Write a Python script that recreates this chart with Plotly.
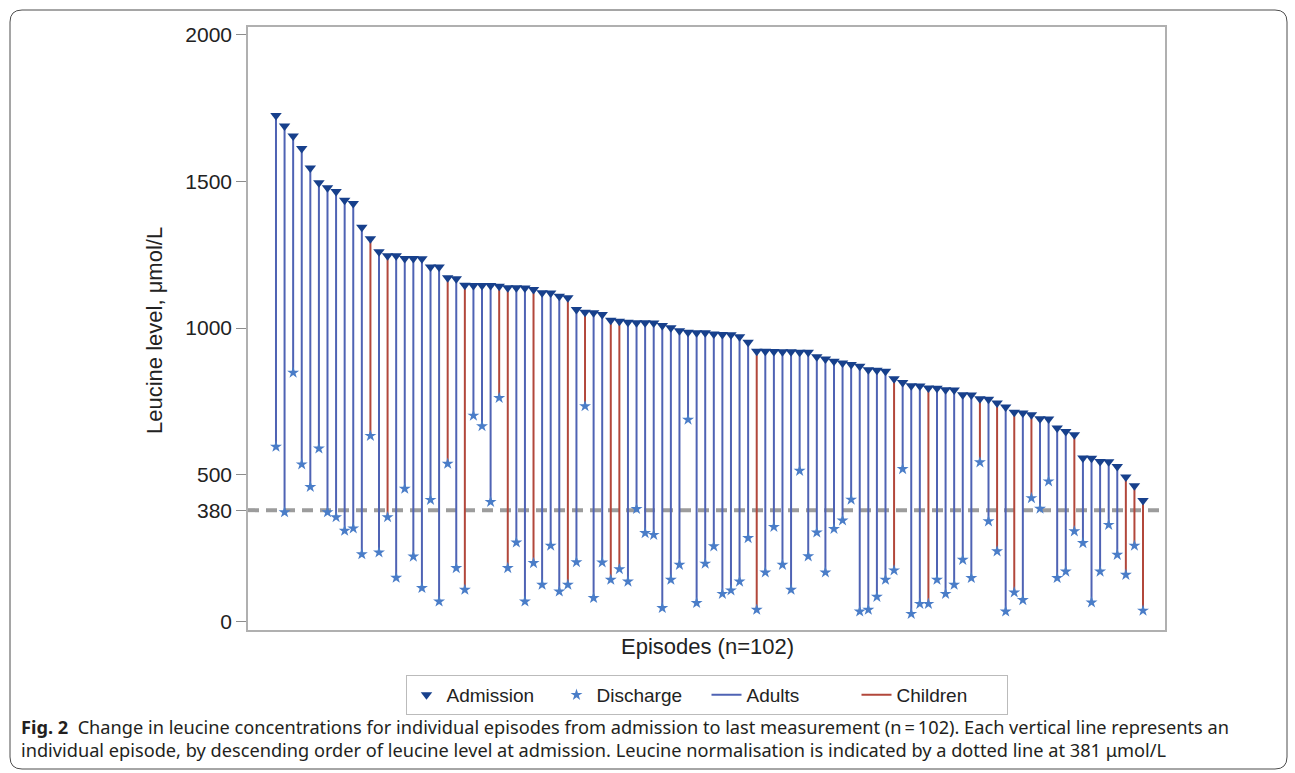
import plotly.graph_objects as go

# ---------------- data ----------------
episodes = list(range(1, 103))

admission = [
    1724, 1688, 1654, 1611, 1545, 1495, 1478, 1465, 1435, 1424,
    1343, 1304, 1260, 1246, 1246, 1237, 1237, 1236, 1208, 1208,
    1171, 1168, 1146, 1145, 1145, 1145, 1142, 1137, 1137, 1136,
    1131, 1120, 1119, 1108, 1103, 1063, 1054, 1052, 1046, 1027,
    1023, 1020, 1018, 1018, 1017, 1009, 1001, 991, 986, 984,
    984, 980, 978, 977, 970, 952, 921, 921, 920, 919,
    919, 918, 918, 902, 895, 887, 881, 876, 870, 858,
    856, 853, 827, 815, 804, 803, 796, 795, 790, 789,
    773, 772, 759, 758, 745, 731, 713, 711, 705, 691,
    690, 660, 648, 637, 558, 557, 546, 545, 529, 493,
    463, 413,
]

discharge = [
    596, 373, 848, 536, 459, 590, 373, 356, 310, 318,
    230, 633, 236, 356, 150, 453, 222, 115, 415, 69,
    538, 183, 109, 702, 666, 408, 762, 183, 270, 69,
    200, 126, 259, 103, 126, 203, 734, 81, 202, 143,
    179, 137, 384, 302, 296, 47, 143, 194, 688, 64,
    198, 257, 95, 107, 137, 285, 41, 168, 323, 194,
    109, 514, 223, 304, 168, 316, 345, 416, 35, 41,
    85, 143, 175, 520, 27, 61, 61, 143, 95, 126,
    211, 149, 543, 342, 240, 35, 100, 74, 421, 385,
    478, 149, 171, 308, 268, 66, 171, 330, 228, 160,
    259, 38,
]

children_episodes = [12, 14, 21, 23, 27, 28, 31, 35, 37, 40, 41,
                     57, 73, 77, 83, 85, 87, 89, 94, 100, 101, 102]

normalisation_level = 380
y_tick_values = [0, 380, 500, 1000, 1500, 2000]

caption_line1 = ("<b>Fig. 2</b>  Change in leucine concentrations for individual episodes from "
                 "admission to last measurement (n\u2009=\u2009102). Each vertical line represents an")
caption_line2 = ("individual episode, by descending order of leucine level at admission. "
                 "Leucine normalisation is indicated by a dotted line at 381 \u03bcmol/L")

# ---------------- styling ----------------
W, H = 1295, 773
PL, PR, PT, PB = 248, 1165, 27, 630   # plot area in pixels

ADULT_COL = "#4F63B4"
CHILD_COL = "#B2473B"
ADM_COL = "#17408C"
DIS_COL = "#4A7DC8"
FONT = "Arial, Liberation Sans, sans-serif"
CAP_FONT = "Noto Sans, sans-serif"


def px_x(p):
    return (p - PL) / (PR - PL)


def px_y(p):
    return (PB - p) / (PB - PT)


fig = go.Figure()

# vertical lines, split by group
for name, col, is_child in (("Adults", ADULT_COL, False), ("Children", CHILD_COL, True)):
    xs, ys = [], []
    for e, a, d in zip(episodes, admission, discharge):
        if (e in children_episodes) == is_child:
            xs += [e, e, None]
            ys += [d, a, None]
    fig.add_trace(go.Scatter(
        x=xs, y=ys, mode="lines", name=name,
        line=dict(color=col, width=2),
        legendrank=3 if not is_child else 4,
        hoverinfo="skip",
    ))

fig.add_trace(go.Scatter(
    x=episodes, y=admission, mode="markers", name="Admission",
    marker=dict(symbol="triangle-down", size=10, color=ADM_COL),
    legendrank=1,
))
fig.add_trace(go.Scatter(
    x=episodes, y=discharge, mode="markers", name="Discharge",
    marker=dict(symbol="star", size=9, color=DIS_COL, line=dict(width=0)),
    legendrank=2,
))

shapes = [
    dict(type="line", xref="paper", yref="y", x0=0, x1=1,
         y0=normalisation_level, y1=normalisation_level,
         line=dict(color="#9C9C9C", width=4, dash="11px,7px"), layer="below"),
]

# outer rounded frame
x0, x1, y0, y1, r = 10, 1287, 10, 769, 12
path = (f"M {px_x(x0 + r)},{px_y(y0)} L {px_x(x1 - r)},{px_y(y0)} "
        f"Q {px_x(x1)},{px_y(y0)} {px_x(x1)},{px_y(y0 + r)} "
        f"L {px_x(x1)},{px_y(y1 - r)} Q {px_x(x1)},{px_y(y1)} {px_x(x1 - r)},{px_y(y1)} "
        f"L {px_x(x0 + r)},{px_y(y1)} Q {px_x(x0)},{px_y(y1)} {px_x(x0)},{px_y(y1 - r)} "
        f"L {px_x(x0)},{px_y(y0 + r)} Q {px_x(x0)},{px_y(y0)} {px_x(x0 + r)},{px_y(y0)} Z")
shapes.append(dict(type="path", xref="paper", yref="paper", path=path,
                   line=dict(color="#4D4D4D", width=1)))

annotations = [
    dict(text="Leucine level, \u03bcmol/L", xref="paper", yref="paper",
         x=px_x(155), y=px_y(331), xanchor="center", yanchor="middle",
         textangle=-90, showarrow=False,
         font=dict(family=FONT, size=22, color="#222")),
    dict(text="Episodes (n=102)", xref="paper", yref="paper",
         x=px_x(707), y=px_y(646), xanchor="center", yanchor="middle", showarrow=False,
         font=dict(family=FONT, size=22, color="#222")),
    dict(text=caption_line1, xref="paper", yref="paper", x=px_x(19), y=px_y(727),
         xanchor="left", yanchor="middle", showarrow=False,
         font=dict(family=CAP_FONT, size=18.2, color="#231F20")),
    dict(text=caption_line2, xref="paper", yref="paper", x=px_x(19), y=px_y(750),
         xanchor="left", yanchor="middle", showarrow=False,
         font=dict(family=CAP_FONT, size=18.2, color="#231F20")),
]

fig.update_layout(
    width=W, height=H, autosize=False,
    margin=dict(l=PL, r=W - PR, t=PT, b=H - PB, pad=0),
    paper_bgcolor="white", plot_bgcolor="white",
    showlegend=True,
    legend=dict(orientation="h", x=0.5, xanchor="center", y=px_y(675), yanchor="top",
                bordercolor="#BBBBBB", borderwidth=1, bgcolor="white",
                font=dict(family=FONT, size=19, color="#222"),
                entrywidth=105, traceorder="normal"),
    shapes=shapes, annotations=annotations,
    xaxis=dict(range=[-2.26, 104.56], showticklabels=False, ticks="", showgrid=False,
               zeroline=False, showline=True, mirror=True, linecolor="#B0B0B0", linewidth=1.5),
    yaxis=dict(range=[-28, 2025], tickvals=y_tick_values, ticks="outside", ticklen=10,
               tickcolor="#8C8C8C", tickwidth=1, showgrid=False, zeroline=False,
               showline=True, mirror=True, linecolor="#B0B0B0", linewidth=1.5,
               tickfont=dict(family=FONT, size=21, color="#222")),
)

fig.write_html("out.html")
